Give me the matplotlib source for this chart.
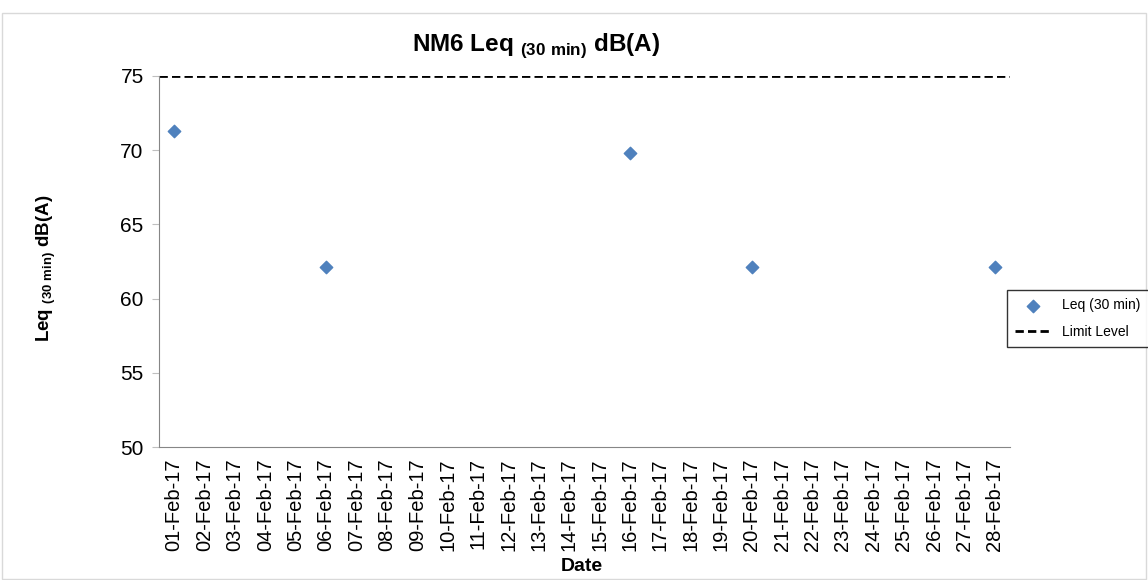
import numpy as np
import matplotlib.pyplot as plt

plt.rcParams['font.family'] = ['Liberation Sans', 'DejaVu Sans']
plt.rcParams['mathtext.fontset'] = 'custom'
plt.rcParams['mathtext.rm'] = 'Liberation Sans:bold'

dates = ['%02d-Feb-17' % d for d in range(1, 29)]
meas_dates = ['01-Feb-17', '06-Feb-17', '16-Feb-17', '20-Feb-17', '28-Feb-17']
leq = [71.3, 62.1, 69.8, 62.1, 62.1]
limit = 75

fig = plt.figure(figsize=(11.48, 5.8), dpi=100)
ax = fig.add_axes([0.1385, 0.2293, 0.7413, 0.6397])

xpos = [dates.index(d) for d in meas_dates]
ax.scatter(xpos, leq, marker='D', s=40, color='#4f81bd', zorder=3, label='Leq (30 min)')
ax.axhline(limit, color='black', lw=2, ls=(0, (3, 1.5)), label='Limit Level')

ax.set_xlim(-0.5, len(dates) - 0.5)
ax.set_ylim(50, 75)
ax.set_yticks([50, 55, 60, 65, 70, 75])
ax.set_xticks(range(len(dates)))
ax.set_xticklabels(dates, rotation=90, fontsize=14.5)
ax.tick_params(axis='y', labelsize=15, length=5, color='#bfbfbf', pad=6)
ax.tick_params(axis='x', length=0, pad=8)

for s in ['top', 'right']:
    ax.spines[s].set_visible(False)
for s in ['left', 'bottom']:
    ax.spines[s].set_color('#868686')

fig.text(0.467, 0.922, r'NM6 Leq $_{\mathrm{(30\ min)}}$ dB(A)', fontsize=17.5,
         fontweight='bold', ha='center', va='center')
fig.text(0.040, 0.538, r'Leq $_{\mathrm{(30\ min)}}$ dB(A)', fontsize=13.5,
         fontweight='bold', ha='center', va='center', rotation=90)
fig.text(0.507, 0.024, 'Date', fontsize=14, fontweight='bold', ha='center', va='center')

leg = fig.legend(loc='upper left', bbox_to_anchor=(0.877, 0.50), fontsize=10,
                 frameon=True, fancybox=False, edgecolor='black', handlelength=2.6,
                 borderpad=0.6, labelspacing=0.9, borderaxespad=0)
leg.get_frame().set_linewidth(1)

fig.patches.append(plt.Rectangle((0.002, 0.002), 0.996, 0.975, transform=fig.transFigure,
                                 fill=False, edgecolor='#d9d9d9', lw=1))
fig.savefig('out.png', dpi=100)
